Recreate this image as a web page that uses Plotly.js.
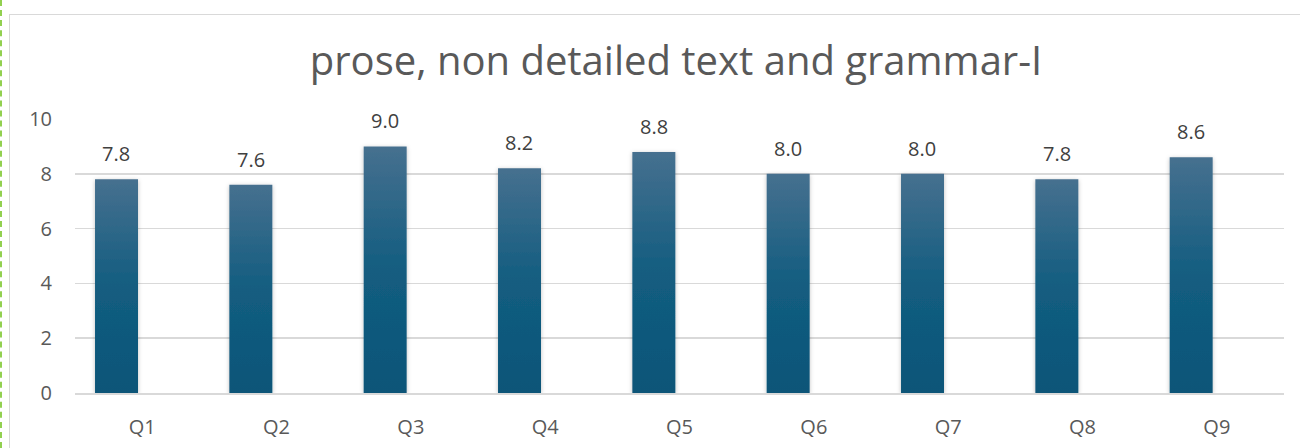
<!DOCTYPE html>
<html>
<head>
<meta charset="utf-8">
<script src="https://cdn.plot.ly/plotly-3.0.1.min.js"></script>
<style>
  html, body { margin: 0; padding: 0; background: #ffffff; }
  #wrap { position: relative; width: 1300px; height: 448px; overflow: hidden; }
  #chart { position: absolute; left: 0; top: 0; width: 1300px; height: 448px; }
  #frame { position: absolute; left: 9px; top: 14px; width: 1400px; height: 500px; border: 1px solid #d9d9d9; pointer-events: none; }
  #dash { position: absolute; left: 0px; top: 0px; width: 0px; height: 448px; border-left: 2px dashed #92d050; pointer-events: none; }
</style>
</head>
<body>
<div id="wrap">
  <div id="chart"></div>
  <div id="frame"></div>
  <div id="dash"></div>
</div>
<script>
const categories = ['Q1', 'Q2', 'Q3', 'Q4', 'Q5', 'Q6', 'Q7', 'Q8', 'Q9'];
const scores = [7.8, 7.6, 9.0, 8.2, 8.8, 8.0, 8.0, 7.8, 8.6];
const valueLabels = scores.map(v => v.toFixed(1));
const yTickVals = [0, 2, 4, 6, 8, 10];
const chartTitle = 'prose, non detailed text and grammar-I';

const fontFamily = '"Open Sans", "Noto Sans", sans-serif';

const trace = {
  type: 'bar',
  x: categories,
  y: scores,
  width: 0.32,
  offset: -0.351,
  marker: { color: '#1a6184', line: { width: 0 } },
  hoverinfo: 'none',
  cliponaxis: false
};

const annotations = categories.map((c, i) => ({
  x: c, y: scores[i], xref: 'x', yref: 'y',
  text: valueLabels[i], showarrow: false,
  yanchor: 'bottom', yshift: 10, xshift: -26,
  font: { family: fontFamily, size: 20, color: '#404040' }
}));

const layout = {
  width: 1300, height: 448,
  margin: { l: 75, r: 16, t: 119, b: 55, pad: 0 },
  paper_bgcolor: '#ffffff', plot_bgcolor: '#ffffff',
  showlegend: false,
  title: {
    text: chartTitle,
    font: { family: fontFamily, size: 40, color: '#595959' },
    x: 0.52, xanchor: 'center', xref: 'container',
    y: 1 - 61 / 448, yanchor: 'middle', yref: 'container'
  },
  xaxis: {
    type: 'category',
    showgrid: false, zeroline: false,
    showline: true, linecolor: '#d9d9d9', linewidth: 1.5,
    ticks: '', ticklabelstandoff: 15,
    tickfont: { family: fontFamily, size: 20, color: '#595959' },
    fixedrange: true
  },
  yaxis: {
    range: [0, 10],
    tickvals: yTickVals,
    ticktext: yTickVals.map(String),
    showgrid: true, gridcolor: '#d9d9d9', gridwidth: 1.5,
    zeroline: false, showline: false,
    ticks: '', ticklabelstandoff: 22,
    tickfont: { family: fontFamily, size: 20, color: '#595959' },
    fixedrange: true
  },
  annotations: annotations
};

function styleBars() {
  const svg = document.querySelector('#chart .main-svg');
  if (!svg) return;
  const ns = 'http://www.w3.org/2000/svg';
  let defs = svg.querySelector('defs');
  if (!defs) { defs = document.createElementNS(ns, 'defs'); svg.insertBefore(defs, svg.firstChild); }
  if (!document.getElementById('barGrad')) {
    const g = document.createElementNS(ns, 'linearGradient');
    g.setAttribute('id', 'barGrad');
    g.setAttribute('x1', '0'); g.setAttribute('y1', '0');
    g.setAttribute('x2', '0'); g.setAttribute('y2', '1');
    [['0%', '#46708f'], ['50%', '#135d80'], ['100%', '#0b5578']].forEach(([o, c]) => {
      const s = document.createElementNS(ns, 'stop');
      s.setAttribute('offset', o); s.setAttribute('stop-color', c);
      g.appendChild(s);
    });
    defs.appendChild(g);
    const f = document.createElementNS(ns, 'filter');
    f.setAttribute('id', 'barShadow');
    f.setAttribute('x', '-30%'); f.setAttribute('y', '-10%');
    f.setAttribute('width', '160%'); f.setAttribute('height', '120%');
    const ds = document.createElementNS(ns, 'feDropShadow');
    ds.setAttribute('dx', '0'); ds.setAttribute('dy', '1');
    ds.setAttribute('stdDeviation', '2');
    ds.setAttribute('flood-color', '#000000');
    ds.setAttribute('flood-opacity', '0.25');
    f.appendChild(ds);
    defs.appendChild(f);
  }
  document.querySelectorAll('#chart .bars .point path').forEach(p => {
    p.style.fill = 'url(#barGrad)';
    p.style.filter = 'url(#barShadow)';
  });
}

Plotly.newPlot('chart', [trace], layout, { displayModeBar: false, staticPlot: true }).then(gd => {
  styleBars();
  gd.on('plotly_afterplot', styleBars);
});
</script>
</body>
</html>
